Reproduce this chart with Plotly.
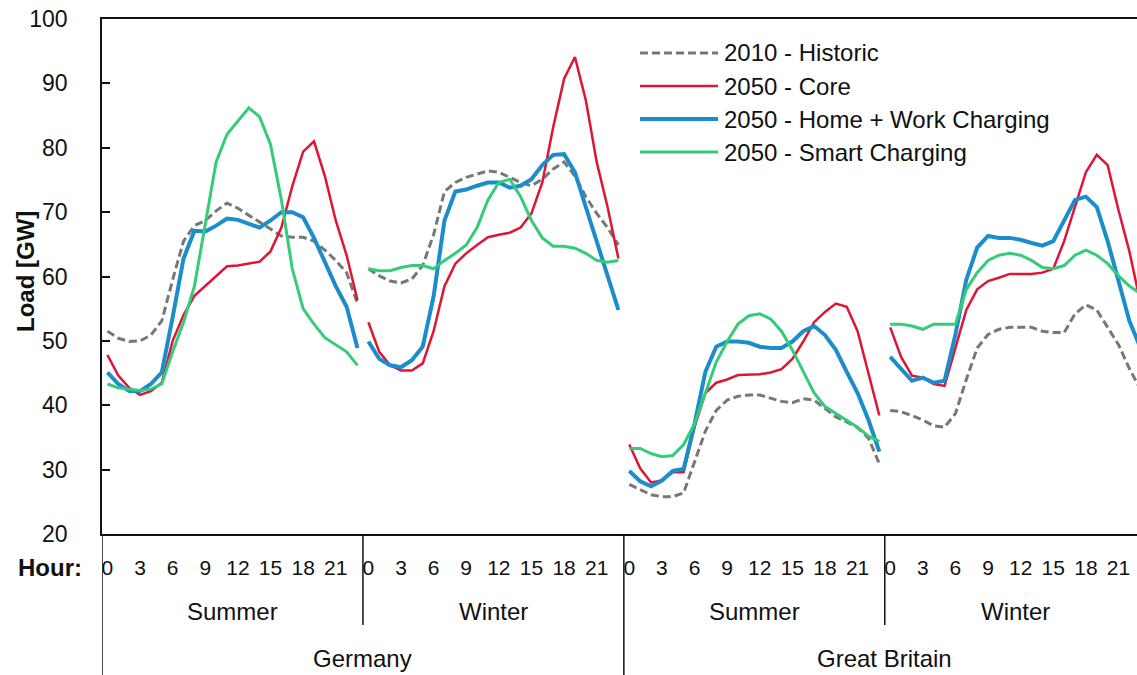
#!/usr/bin/env python3
"""Hourly load profiles, Germany / Great Britain, summer and winter, 2010 vs 2050 scenarios."""
import plotly.graph_objects as go

HOURS = list(range(24))
HOUR_TICKS = [0, 3, 6, 9, 12, 15, 18, 21]
SEASONS = ["Summer", "Winter", "Summer", "Winter"]
COUNTRIES = ["Germany", "Great Britain"]
Y_TICKS = [20, 30, 40, 50, 60, 70, 80, 90, 100]

# 2010 - Historic
HIST_DE_SUM = [51.5, 50.4, 49.9, 50.0, 50.9, 53.1, 59.5, 65.5, 67.9, 68.7, 70.2, 71.4,
               70.6, 69.5, 68.4, 67.3, 66.3, 66.1, 66.1, 65.5, 64.1, 62.5, 60.6, 55.8]
HIST_DE_WIN = [61.2, 60.1, 59.3, 59.0, 59.6, 61.7, 66.5, 73.2, 74.6, 75.4, 75.9, 76.4,
               76.2, 75.4, 74.6, 74.1, 75.1, 76.7, 77.8, 75.6, 72.4, 69.8, 67.6, 64.9]
HIST_GB_SUM = [27.7, 26.9, 26.1, 25.8, 25.8, 26.4, 31.2, 36.0, 39.2, 40.8, 41.4, 41.6,
               41.6, 41.1, 40.6, 40.4, 41.0, 40.8, 39.5, 38.2, 37.4, 36.5, 34.9, 30.9]
HIST_GB_WIN = [39.2, 39.0, 38.4, 37.7, 36.8, 36.6, 38.7, 44.0, 48.9, 51.0, 51.8, 52.1,
               52.1, 52.1, 51.5, 51.3, 51.3, 54.2, 55.6, 54.8, 52.1, 49.4, 45.7, 42.5]

# 2050 - Core
CORE_DE_SUM = [47.8, 44.6, 42.7, 41.6, 42.2, 43.5, 50.0, 54.0, 57.0, 58.5, 60.1, 61.6,
               61.7, 62.0, 62.3, 63.9, 67.6, 74.0, 79.4, 81.0, 75.6, 68.7, 63.3, 56.3]
CORE_DE_WIN = [52.9, 48.3, 46.2, 45.4, 45.4, 46.5, 51.5, 58.5, 62.0, 63.6, 64.9, 66.1,
               66.5, 66.8, 67.6, 69.8, 74.6, 83.2, 90.7, 94.1, 87.4, 77.8, 70.8, 62.8]
CORE_GB_SUM = [33.9, 30.2, 28.0, 28.3, 29.6, 29.6, 36.6, 41.9, 43.5, 44.0, 44.7, 44.8,
               44.8, 45.1, 45.6, 47.2, 49.9, 52.9, 54.5, 55.8, 55.3, 51.5, 45.1, 38.4]
CORE_GB_WIN = [52.1, 47.5, 44.6, 44.3, 43.3, 43.0, 48.9, 54.8, 58.0, 59.3, 59.8, 60.4,
               60.4, 60.4, 60.6, 61.2, 65.5, 70.8, 76.2, 78.9, 77.3, 70.3, 63.9, 56.0]

# 2050 - Home + Work Charging
HOME_DE_SUM = [45.1, 43.3, 42.2, 42.2, 43.3, 45.1, 53.7, 62.8, 67.1, 67.0, 67.9, 69.0,
               68.8, 68.2, 67.6, 68.7, 70.0, 70.0, 69.2, 66.0, 62.3, 58.5, 55.3, 48.9]
HOME_DE_WIN = [49.9, 47.2, 46.2, 45.9, 47.0, 49.1, 56.9, 68.7, 73.2, 73.5, 74.1, 74.6,
               74.6, 73.8, 74.1, 75.1, 77.3, 78.9, 79.0, 76.2, 70.8, 65.5, 60.1, 54.8]
HOME_GB_SUM = [29.8, 28.2, 27.4, 28.3, 29.8, 30.1, 37.1, 45.2, 49.1, 49.9, 49.9, 49.7,
               49.1, 48.9, 48.9, 49.9, 51.5, 52.3, 50.9, 48.6, 45.2, 41.9, 37.7, 32.8]
HOME_GB_WIN = [47.5, 45.6, 43.8, 44.3, 43.5, 43.8, 51.0, 59.5, 64.5, 66.3, 66.0, 66.0,
               65.7, 65.2, 64.8, 65.5, 68.7, 71.9, 72.4, 70.8, 65.5, 59.0, 53.1, 49.0]

# 2050 - Smart Charging
SMART_DE_SUM = [43.3, 42.7, 42.5, 42.3, 42.5, 43.3, 48.3, 52.9, 58.5, 68.2, 77.8, 82.1,
                84.2, 86.2, 84.8, 80.5, 71.9, 61.2, 55.0, 52.6, 50.5, 49.4, 48.3, 46.2]
SMART_DE_WIN = [61.2, 60.9, 60.9, 61.4, 61.7, 61.7, 61.2, 62.5, 63.6, 64.9, 67.6, 71.9,
                74.6, 75.1, 72.4, 68.7, 66.0, 64.7, 64.7, 64.4, 63.6, 62.5, 62.2, 62.5]
SMART_GB_SUM = [33.3, 33.3, 32.5, 32.0, 32.2, 33.9, 37.1, 41.9, 46.7, 49.9, 52.6, 53.9,
                54.2, 53.4, 51.5, 48.6, 45.2, 41.9, 39.8, 38.7, 37.7, 36.6, 35.2, 34.4]
SMART_GB_WIN = [52.6, 52.6, 52.3, 51.8, 52.6, 52.6, 52.6, 58.0, 60.6, 62.5, 63.3, 63.6,
                63.3, 62.5, 61.4, 61.2, 61.7, 63.3, 64.1, 63.3, 62.0, 60.1, 58.5, 57.4]

SERIES = [
    ("2010 - Historic", [HIST_DE_SUM, HIST_DE_WIN, HIST_GB_SUM, HIST_GB_WIN], "#777777", 3, "8px,4px"),
    ("2050 - Core", [CORE_DE_SUM, CORE_DE_WIN, CORE_GB_SUM, CORE_GB_WIN], "#DE1535", 2.5, "solid"),
    ("2050 - Home + Work Charging", [HOME_DE_SUM, HOME_DE_WIN, HOME_GB_SUM, HOME_GB_WIN], "#1B8DCB", 4, "solid"),
    ("2050 - Smart Charging", [SMART_DE_SUM, SMART_DE_WIN, SMART_GB_SUM, SMART_GB_WIN], "#34CC78", 3, "solid"),
]

FONT = "Arial, Liberation Sans, sans-serif"
W, H = 1137, 675
L, R, T, B = 102, 0, 19, 141


def px_x(px):
    return (px - L) / (W - L - R)


def px_y(py):
    return (H - B - py) / (H - T - B)


fig = go.Figure()
for name, panels, color, width, dash in SERIES:
    xs, ys = [], []
    for p, vals in enumerate(panels):
        xs += [24 * p + h for h in HOURS] + [None]
        ys += list(vals) + [None]
    fig.add_trace(go.Scatter(x=xs, y=ys, mode="lines", name=name, showlegend=False,
                             line=dict(color=color, width=width, dash=dash),
                             connectgaps=False, hoverinfo="skip"))

tickvals = [24 * p + h for p in range(4) for h in HOUR_TICKS]
ticktext = [str(h) for p in range(4) for h in HOUR_TICKS]

shapes = []
annotations = []
# group separators under the axis
for k in range(4):
    xsep = 24 * k - 0.5
    ybot = px_y(675) if k % 2 == 0 else px_y(625)
    shapes.append(dict(type="line", xref="x", yref="paper", x0=xsep, x1=xsep, y0=0, y1=ybot,
                       line=dict(color="#111", width=1.5)))
for k, s in enumerate(SEASONS):
    annotations.append(dict(text=s, xref="x", yref="paper", x=24 * k + 11.5, y=px_y(611),
                            xanchor="center", yanchor="middle", showarrow=False,
                            font=dict(size=24, color="#111", family=FONT)))
for k, c in enumerate(COUNTRIES):
    annotations.append(dict(text=c, xref="x", yref="paper", x=48 * k + 23.5, y=px_y(658),
                            xanchor="center", yanchor="middle", showarrow=False,
                            font=dict(size=24, color="#111", family=FONT)))
annotations.append(dict(text="<b>Hour:</b>", xref="paper", yref="paper", x=px_x(84), y=px_y(567),
                        xanchor="right", yanchor="middle", showarrow=False,
                        font=dict(size=24, color="#111", family=FONT)))
annotations.append(dict(text="<b>Load [GW]</b>", xref="paper", yref="paper", x=px_x(25), y=px_y(272),
                        xanchor="center", yanchor="middle", textangle=-90, showarrow=False,
                        font=dict(size=24, color="#111", family=FONT)))

# legend drawn by hand so the line samples are long
for i, (name, _, color, width, dash) in enumerate(SERIES):
    yy = px_y(53 + 33 * i)
    shapes.append(dict(type="line", xref="paper", yref="paper", x0=px_x(640), x1=px_x(718),
                       y0=yy, y1=yy, line=dict(color=color, width=width, dash=dash)))
    annotations.append(dict(text=name, xref="paper", yref="paper", x=px_x(722), y=yy,
                            xanchor="left", yanchor="middle", showarrow=False,
                            font=dict(size=24, color="#111", family=FONT)))

fig.update_layout(
    width=W, height=H,
    margin=dict(l=L, r=R, t=T, b=B, autoexpand=False),
    plot_bgcolor="white", paper_bgcolor="white",
    font=dict(family=FONT, color="#111"),
    shapes=shapes, annotations=annotations,
    xaxis=dict(range=[-0.5, 94.7], showgrid=False, zeroline=False, automargin=False,
               showline=True, mirror=True, linecolor="#111", linewidth=1.5,
               tickmode="array", tickvals=tickvals, ticktext=ticktext, ticks="",
               ticklabelstandoff=14, tickfont=dict(size=21, color="#111")),
    yaxis=dict(range=[20, 100], showgrid=False, zeroline=False, automargin=False,
               showline=True, linecolor="#111", linewidth=1.5,
               tickmode="array", tickvals=Y_TICKS, ticks="inside", ticklen=8,
               tickcolor="#111", tickwidth=1.5, ticklabelstandoff=28,
               tickfont=dict(size=23, color="#111")),
    yaxis2=dict(range=[20, 100], overlaying="y", side="right", anchor="x", automargin=False,
                showgrid=False, zeroline=False, showline=False,
                tickmode="array", tickvals=Y_TICKS, ticks="inside", ticklen=6,
                tickcolor="#111", tickwidth=1.5, showticklabels=False),
)

# the page body has an 8px default margin; drop it so the figure sits at the window corner
fig.write_html("out.html", config={"displayModeBar": False},
               post_script="document.body.style.margin='0';")
